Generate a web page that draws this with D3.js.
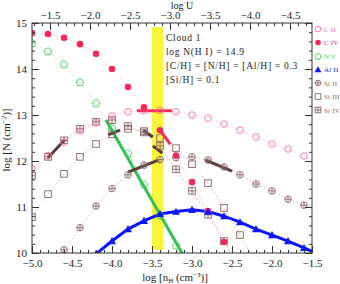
<!DOCTYPE html>
<html>
<head>
<meta charset="utf-8">
<script src="https://cdn.jsdelivr.net/npm/d3@7"></script>
<style>
  body { margin: 0; background: #fff; }
  svg { display: block; }
  .tick text { font-family: "Liberation Serif", serif; font-size: 11px; fill: #222; }
  .domain { stroke: #333; }
  .tick line { stroke: #333; }
</style>
</head>
<body>
<div id="chart"></div>
<script>
// model grid, log nH
var nH = [-5.0, -4.8, -4.6, -4.4, -4.2, -4.0, -3.8, -3.6, -3.4, -3.2, -3.0, -2.8, -2.6, -2.4, -2.2, -2.0, -1.8, -1.6, -1.4];

// column densities (null = not shown)
var cII   = [11.83, 12.12, 12.41, 12.65, 12.83, 12.98, 13.07, 13.10, 13.10, 13.07, 13.00, 12.93, 12.80, 12.67, 12.52, 12.37, 12.26, 12.11, 11.95];
var cIV   = [14.78, 14.76, 14.68, 14.54, 14.33, 14.00, 13.61, 13.17, 12.67, 12.12, 11.54, 10.91, 10.24, 9.60, null, null, null, null, null];
var nV    = [14.57, 14.39, 14.11, 13.72, 13.26, 12.72, 12.17, 11.50, 10.83, 10.17, 9.50, null, null, null, null, null, null, null, null];
var alII  = [null, null, null, 9.50, 9.98, 10.26, 10.52, 10.70, 10.85, 10.90, 10.94, 10.90, 10.80, 10.67, 10.52, 10.39, 10.26, 10.11, 9.96];
var siII  = [null, 9.60, 10.07, 10.55, 11.02, 11.40, 11.70, 11.91, 12.03, 12.07, 12.09, 12.02, 11.87, 11.70, 11.50, 11.35, 11.17, 11.04, 10.90];
var siIII = [10.78, 11.28, 11.72, 12.09, 12.37, 12.58, 12.70, 12.65, 12.50, 12.28, 11.93, 11.52, 10.98, 10.39, 9.75, null, null, null, null];
var siIV  = [11.68, 12.09, 12.45, 12.70, 12.85, 12.89, 12.76, 12.62, 12.33, 11.82, 11.35, 10.83, 10.26, 9.70, null, null, null, null, null];

var ions    = ["C II", "C IV", "N V", "Al II", "Si II", "Si III", "Si IV"];
var ionData = [cII, cIV, nV, alII, siII, siIII, siIV];

// thick segments where model matches the data
var segIon = ["C II", "C IV", "N V", "Si IV", "Si III", "Si IV", "Si IV", "Si II", "Si II"];
var segX = [[-3.69, -3.25], [-3.39, -3.27], [-4.075, -3.125], [-4.8, -4.59], [-4.05, -3.9], [-3.61, -3.49], [-3.49, -3.37], [-3.8, -3.42], [-2.83, -2.5]];
var segY = [[13.09, 13.09], [12.65, 12.36], [12.89, 10.0], [12.07, 12.46], [12.57, 12.67], [12.67, 12.52], [12.33, 12.17], [11.76, 12.02], [12.02, 11.78]];

// highlighted density range
var bandX = [-3.5, -3.36];
var bandY = [10.07, 14.91];

var infoLines = ["Cloud 1", "log N(H I) = 14.9", "[C/H] = [N/H] = [Al/H] = 0.3", "[Si/H] = 0.1"];

var W = 340, H = 284;
var x0 = 32, x1 = 312, y0 = 23, y1 = 253;

var colors = {
  "C II": "#ff6a95", "C IV": "#f5285a", "N V": "#3ccf5a", "Al II": "#0a14ff",
  "Si II": "#8a6666", "Si III": "#8a6666", "Si IV": "#8a6666"
};
var lineColors = {
  "C II": "#ffb3c8", "C IV": "#ffa0b8", "N V": "#a5e6b0", "Al II": "#0a14ff",
  "Si II": "#c8b8b8", "Si III": "#c8b8b8", "Si IV": "#c8b8b8"
};
var segColors = {
  "C II": "#ff2f5c", "C IV": "#ff2f5c", "N V": "#33c055",
  "Si II": "#5a3c3c", "Si III": "#5a3c3c", "Si IV": "#5a3c3c"
};

var x = d3.scaleLinear().domain([-5.0, -1.5]).range([x0, x1]);
var y = d3.scaleLinear().domain([10, 15]).range([y1, y0]);
var xU = d3.scaleLinear().domain([-1.275, -4.775]).range([x0, x1]);

var svg = d3.select("#chart").append("svg")
  .attr("width", W).attr("height", H);

svg.append("defs").append("clipPath").attr("id", "clip")
  .append("rect").attr("x", x0).attr("y", y0).attr("width", x1 - x0).attr("height", y1 - y0);

var plot = svg.append("g").attr("clip-path", "url(#clip)");

// yellow band
plot.append("rect")
  .attr("x", x(bandX[0])).attr("width", x(bandX[1]) - x(bandX[0]))
  .attr("y", y(bandY[1])).attr("height", y(bandY[0]) - y(bandY[1]))
  .attr("fill", "#fbf53c");

// model curves
var line = d3.line()
  .defined(d => d[1] != null)
  .x(d => x(d[0])).y(d => y(d[1]));

ions.forEach((ion, k) => {
  var pts = nH.map((v, i) => [v, ionData[k][i]]);
  var p = plot.append("path")
    .attr("d", line(pts))
    .attr("fill", "none")
    .attr("stroke", lineColors[ion]);
  if (ion == "Al II") {
    p.attr("stroke-width", 3);
  } else {
    p.attr("stroke-width", 0.8).attr("stroke-dasharray", ion.indexOf("Si") == 0 ? "2,2" : "1,1.5");
  }
});

// thick segments
segIon.forEach((ion, i) => {
  plot.append("line")
    .attr("x1", x(segX[i][0])).attr("y1", y(segY[i][0]))
    .attr("x2", x(segX[i][1])).attr("y2", y(segY[i][1]))
    .attr("stroke", segColors[ion]).attr("stroke-width", 3);
});

// symbol drawing
function drawSymbol(g, ion, cx, cy, r) {
  var c = colors[ion];
  r = r || 3.3;
  if (ion == "C II") {
    g.append("circle").attr("cx", cx).attr("cy", cy).attr("r", r)
      .attr("fill", "none").attr("stroke", c).attr("stroke-width", 0.9);
  } else if (ion == "C IV") {
    g.append("circle").attr("cx", cx).attr("cy", cy).attr("r", r).attr("fill", c);
  } else if (ion == "N V") {
    var pts = d3.range(5).map(i => {
      var a = -Math.PI / 2 + i * 2 * Math.PI / 5;
      return [cx + 1.2 * r * Math.cos(a), cy + 1.2 * r * Math.sin(a) + 0.5];
    });
    g.append("polygon").attr("points", pts.map(p => p.join(",")).join(" "))
      .attr("fill", "none").attr("stroke", c).attr("stroke-width", 0.9);
  } else if (ion == "Al II") {
    var t = 1.2 * r;
    g.append("path").attr("d", "M" + cx + "," + (cy - t) + "L" + (cx + t) + "," + (cy + 0.8 * t) + "L" + (cx - t) + "," + (cy + 0.8 * t) + "Z")
      .attr("fill", c);
  } else if (ion == "Si II") {
    g.append("circle").attr("cx", cx).attr("cy", cy).attr("r", r)
      .attr("fill", "none").attr("stroke", c).attr("stroke-width", 0.9);
    g.append("path").attr("d", "M" + (cx - r) + "," + cy + "H" + (cx + r) + "M" + cx + "," + (cy - r) + "V" + (cy + r))
      .attr("stroke", c).attr("stroke-width", 0.9);
  } else if (ion == "Si III") {
    g.append("rect").attr("x", cx - r).attr("y", cy - r).attr("width", 2 * r).attr("height", 2 * r)
      .attr("fill", "none").attr("stroke", c).attr("stroke-width", 0.9);
  } else if (ion == "Si IV") {
    g.append("rect").attr("x", cx - r).attr("y", cy - r).attr("width", 2 * r).attr("height", 2 * r)
      .attr("fill", "none").attr("stroke", c).attr("stroke-width", 0.9);
    g.append("path").attr("d", "M" + (cx - r) + "," + cy + "H" + (cx + r) + "M" + cx + "," + (cy - r) + "V" + (cy + r))
      .attr("stroke", c).attr("stroke-width", 0.9);
  }
}

var order = ["Si III", "Si IV", "Si II", "N V", "C II", "C IV", "Al II"];
order.forEach(ion => {
  var k = ions.indexOf(ion);
  var g = plot.append("g");
  nH.forEach((v, i) => {
    var val = ionData[k][i];
    if (val == null) return;
    drawSymbol(g, ion, x(v), y(val));
  });
});

// axes
var fmt = d3.format(".1f");
var xMajor = [-5.0, -4.5, -4.0, -3.5, -3.0, -2.5, -2.0, -1.5];
var xMinor = d3.range(-50, -14, 1).map(v => v / 10);
var yMajor = [10, 11, 12, 13, 14, 15];
var yMinor = d3.range(50, 76, 1).map(v => v / 5);
var uMajor = [-1.5, -2.0, -2.5, -3.0, -3.5, -4.0, -4.5];
var uMinor = d3.range(-47, -12, 1).map(v => v / 10);

function addAxis(axisFn, scale, major, minor, tr, fmtFn, pad) {
  svg.append("g").attr("transform", tr)
    .call(axisFn(scale).tickValues(minor).tickSize(-3).tickFormat(""))
    .call(g => g.select(".domain").remove());
  var g = svg.append("g").attr("transform", tr)
    .call(axisFn(scale).tickValues(major).tickSize(-7).tickPadding(pad).tickFormat(fmtFn));
  g.select(".domain").remove();
  return g;
}

addAxis(d3.axisBottom, x, xMajor, xMinor, "translate(0," + y1 + ")", fmt, 6);
addAxis(d3.axisTop, xU, uMajor, uMinor, "translate(0," + y0 + ")", fmt, 4);
addAxis(d3.axisLeft, y, yMajor, yMinor, "translate(" + x0 + ",0)", d3.format("d"), 5);
addAxis(d3.axisRight, y, yMajor, yMinor, "translate(" + x1 + ",0)", "", 5)
  .selectAll("text").remove();

svg.append("rect").attr("x", x0).attr("y", y0).attr("width", x1 - x0).attr("height", y1 - y0)
  .attr("fill", "none").attr("stroke", "#333").attr("stroke-width", 1);

// axis titles
var serif = "'Liberation Serif', serif";
var xt = svg.append("text").attr("x", 175).attr("y", 281).attr("text-anchor", "middle")
  .attr("font-family", serif).attr("font-size", 11).attr("fill", "#222");
xt.append("tspan").text("log [n");
xt.append("tspan").attr("font-size", 7).attr("dy", 2).text("H");
xt.append("tspan").attr("dy", -2).text(" (cm");
xt.append("tspan").attr("font-size", 7).attr("dy", -4).text("−3");
xt.append("tspan").attr("dy", 4).text(")]");

svg.append("text").attr("x", 182).attr("y", 9).attr("text-anchor", "middle")
  .attr("font-family", serif).attr("font-size", 10).attr("fill", "#222").text("log U");

var yt = svg.append("text").attr("transform", "translate(10," + 140 + ") rotate(-90)")
  .attr("text-anchor", "middle").attr("font-family", serif).attr("font-size", 11).attr("fill", "#222");
yt.append("tspan").text("log [N (cm");
yt.append("tspan").attr("font-size", 7).attr("dy", -4).text("−2");
yt.append("tspan").attr("dy", 4).text(")]");

// info box
infoLines.forEach((t, i) => {
  svg.append("text").attr("x", 166).attr("y", 41 + i * 14)
    .attr("font-family", serif).attr("font-size", 9.5).attr("letter-spacing", 0.7)
    .attr("fill", "#222").text(t);
});

// legend
ions.forEach((ion, i) => {
  var ly = 29 + i * 13.5;
  var g = svg.append("g");
  drawSymbol(g, ion, 318, ly, 2.8);
  svg.append("text").attr("x", 324).attr("y", ly + 2.5)
    .attr("font-family", serif).attr("font-size", 7).attr("letter-spacing", 0.2)
    .attr("fill", colors[ion]).text(ion);
});
</script>
</body>
</html>
